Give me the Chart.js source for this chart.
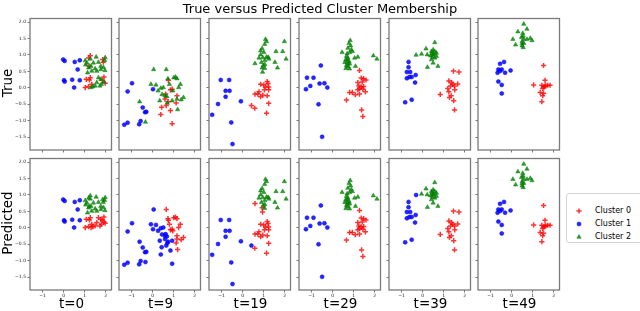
<!DOCTYPE html>
<html>
<head>
<meta charset="utf-8">
<script src="https://cdn.jsdelivr.net/npm/chart.js@4.4.1/dist/chart.umd.min.js"></script>
<style>
body { margin: 0; background: #fff; width: 640px; height: 311px; overflow: hidden; position: relative; font-family: "DejaVu Sans", sans-serif; }
.lbl { position: absolute; color: #000; white-space: nowrap; transform: translate(-50%, -50%); line-height: 1; }
.rot { transform: translate(-50%, -50%) rotate(-90deg); }
canvas { position: absolute; }
#legend { position: absolute; left: 566px; top: 193px; width: 80px; height: 50px; border: 1px solid #d4d4d4; border-radius: 3px; box-sizing: border-box; }
.legtxt { position: absolute; left: 28px; font-size: 8px; transform: translateY(-50%); line-height: 1; }
</style>
</head>
<body>
<div id="legend"></div>
<script>
const chartTitle = 'True versus Predicted Cluster Membership';
const rowLabels = ['True', 'Predicted'];
const timeLabels = ['t=0', 't=9', 't=19', 't=29', 't=39', 't=49'];
const clusterNames = ['Cluster 0', 'Cluster 1', 'Cluster 2'];
const xTicks = [-1, 0, 1, 2];
const yTicks = [-1.5, -1.0, -0.5, 0.0, 0.5, 1.0, 1.5, 2.0];
const xRange = [-1.6, 2.28];
const yRange = [-1.89, 2.11];

// each point: [x, y, true cluster, predicted cluster]
const pointsT0 = [
  [-0.02, 0.86, 1, 1], [0.05, 0.82, 1, 1], [0.53, 0.79, 1, 1], [0.77, 0.84, 1, 1], [0.67, 0.56, 1, 1],
  [0.02, 0.23, 1, 1], [0.05, 0.19, 1, 1], [0.41, 0.25, 1, 1], [0.77, 0.23, 1, 1], [0.50, 0.01, 1, 1],
  [1.03, 0.83, 2, 2], [1.11, 0.76, 2, 2], [1.27, 0.88, 2, 2], [1.55, 0.94, 2, 2], [1.98, 0.92, 2, 2],
  [1.95, 0.84, 2, 2], [1.42, 0.76, 2, 2], [1.66, 0.78, 2, 2], [1.77, 0.66, 2, 2], [1.97, 0.53, 2, 2],
  [1.19, 0.61, 2, 2], [1.30, 0.66, 2, 2], [1.50, 0.58, 2, 2], [1.14, 0.46, 2, 2], [1.34, 0.51, 2, 2],
  [1.58, 0.51, 2, 2], [1.77, 0.56, 2, 2], [1.05, 0.70, 2, 2], [1.90, 0.62, 2, 2],
  [1.66, 0.31, 2, 0], [1.77, 0.26, 2, 0], [1.80, 0.11, 2, 0], [1.73, 0.06, 2, 0], [1.39, 0.04, 2, 0],
  [1.50, 0.06, 2, 0], [1.31, 0.01, 2, 0], [1.58, 0.16, 2, 0], [1.92, 0.18, 2, 0],
  [1.27, 0.98, 0, 2], [1.19, 0.91, 0, 2], [1.89, 0.78, 0, 2], [1.86, 0.86, 0, 2], [1.22, 0.66, 0, 2],
  [1.08, 0.26, 0, 0], [1.23, 0.24, 0, 0], [1.27, 0.31, 0, 0], [1.03, 0.01, 0, 0], [1.19, 0.04, 0, 0],
  [1.34, 0.11, 0, 0], [1.92, 0.33, 0, 0], [1.98, 0.14, 0, 0], [1.85, 0.23, 0, 0]
];
const pointsT9 = [
  [-0.98, 0.14, 1, 1], [-1.19, -0.11, 1, 1], [0.02, -0.04, 1, 1], [-0.47, -0.60, 1, 1], [-0.30, -0.73, 1, 1],
  [-0.36, -0.74, 1, 1], [-0.57, -1.01, 1, 1], [-0.64, -1.11, 1, 1], [-1.19, -1.06, 1, 1], [-1.35, -1.12, 1, 1],
  [0.05, 0.56, 2, 1], [-0.08, 0.11, 2, 1], [0.16, 0.09, 2, 1], [0.39, -0.01, 2, 1], [0.51, 0.01, 2, 1],
  [0.26, -0.09, 2, 1], [0.59, -0.24, 2, 1], [0.68, -0.26, 2, 1], [0.93, -0.39, 2, 1], [0.70, -0.46, 2, 1],
  [0.34, -0.39, 2, 1], [-0.62, -0.42, 2, 1], [-0.34, -1.04, 2, 1], [0.45, -0.20, 2, 1],
  [0.65, 0.56, 2, 0], [0.73, 0.28, 2, 0], [0.80, 0.11, 2, 0], [1.01, 0.31, 2, 0], [1.09, 0.33, 2, 0],
  [1.16, 0.28, 2, 0], [1.32, 0.11, 2, 0], [1.24, 0.01, 2, 0], [0.96, -0.09, 2, 0], [1.47, -0.29, 2, 0],
  [1.36, -0.36, 2, 0], [1.16, -0.34, 2, 0], [1.19, -0.66, 2, 0],
  [0.75, 0.23, 0, 0], [0.93, -0.04, 0, 0], [0.85, -0.06, 0, 0], [1.16, -0.24, 0, 0], [1.12, -0.46, 0, 0],
  [0.62, -0.19, 0, 1], [0.59, -0.34, 0, 1], [0.74, -0.42, 0, 1], [0.43, -0.59, 0, 1], [0.39, -0.81, 0, 1],
  [0.85, -0.69, 0, 1], [0.93, -1.09, 0, 1], [0.65, -0.54, 0, 1]
];
const pointsT19 = [
  [-1.04, 0.24, 1, 1], [-0.64, 0.24, 1, 1], [-0.81, -0.09, 1, 1], [-0.62, -0.09, 1, 1], [-0.81, -0.27, 1, 1],
  [-1.17, -0.49, 1, 1], [-1.45, -0.82, 1, 1], [-0.08, -0.41, 1, 1], [-0.54, -1.05, 1, 1], [-0.48, -1.71, 1, 1],
  [1.17, 0.19, 0, 0], [1.21, 0.13, 0, 0], [0.86, 0.11, 0, 0], [1.01, 0.09, 0, 0], [1.09, 0.03, 0, 0],
  [1.24, 0.03, 0, 0], [1.04, -0.06, 0, 0], [1.24, -0.06, 0, 0], [0.59, -0.19, 0, 0], [0.73, -0.19, 0, 0],
  [0.86, -0.27, 0, 0], [0.96, -0.22, 0, 0], [0.78, -0.12, 0, 0], [1.17, -0.24, 0, 0], [0.42, -0.54, 0, 1],
  [0.58, -0.62, 0, 0], [1.24, -0.47, 0, 0], [1.14, -0.77, 0, 0],
  [0.59, 0.74, 2, 0], [0.93, 0.61, 2, 0], [0.95, 0.48, 2, 0],
  [1.09, 1.48, 2, 2], [1.14, 1.41, 2, 2], [1.05, 1.33, 2, 2], [0.93, 1.20, 2, 2], [0.86, 1.13, 2, 2],
  [1.01, 1.08, 2, 2], [1.14, 0.94, 2, 2], [1.22, 0.93, 2, 2], [1.25, 0.88, 2, 2], [0.86, 1.01, 2, 2],
  [0.78, 0.91, 2, 2], [1.06, 0.84, 2, 2], [0.90, 0.78, 2, 2], [0.98, 0.68, 2, 2], [1.06, 0.71, 2, 2],
  [1.05, 0.60, 2, 2], [0.96, 0.92, 2, 2], [1.99, 1.41, 2, 2], [1.59, 1.11, 2, 2], [1.91, 1.11, 2, 2],
  [2.07, 0.88, 2, 2], [1.54, 0.78, 2, 2], [1.66, 0.61, 2, 2]
];
const pointsT29 = [
  [-0.56, 0.68, 1, 1], [-1.22, 0.31, 1, 1], [-0.91, 0.31, 1, 1], [-1.06, 0.06, 1, 1], [-1.27, -0.04, 1, 1],
  [-0.62, 0.13, 1, 1], [-0.39, 0.14, 1, 1], [-0.25, 0.01, 1, 1], [-0.67, -0.50, 1, 1], [-0.50, -1.49, 1, 1],
  [1.28, 0.53, 0, 0], [1.36, 0.30, 0, 0], [1.48, 0.28, 0, 0], [1.59, 0.24, 0, 0], [1.20, 0.16, 0, 0],
  [1.41, 0.18, 0, 0], [1.25, 0.06, 0, 0], [1.36, 0.03, 0, 0], [1.48, 0.04, 0, 0], [1.28, -0.02, 0, 0],
  [1.44, -0.04, 0, 0], [1.56, -0.12, 0, 0], [1.20, -0.06, 0, 0], [0.81, -0.14, 0, 0], [0.94, -0.14, 0, 0],
  [1.08, -0.21, 0, 0], [1.28, -0.19, 0, 0], [0.66, -0.37, 0, 0], [1.38, -0.67, 0, 0], [1.44, -0.87, 0, 0],
  [0.84, 1.44, 2, 2], [0.78, 1.36, 2, 2], [0.86, 1.28, 2, 2], [0.73, 1.21, 2, 2], [0.89, 1.16, 2, 2],
  [0.81, 1.08, 2, 2], [0.45, 1.08, 2, 2], [0.69, 1.04, 2, 2], [0.94, 1.11, 2, 2], [1.05, 0.91, 2, 2],
  [1.20, 0.94, 2, 2], [0.66, 0.96, 2, 2], [0.73, 0.91, 2, 2], [0.63, 0.86, 2, 2], [0.78, 0.81, 2, 2],
  [0.58, 0.78, 2, 2], [0.69, 0.76, 2, 2], [0.81, 0.74, 2, 2], [0.66, 0.68, 2, 2], [0.73, 0.64, 2, 2],
  [0.63, 0.59, 2, 2], [0.81, 0.58, 2, 2], [1.09, 0.66, 2, 2], [1.94, 0.98, 2, 2], [2.11, 0.88, 2, 2],
  [0.70, 0.85, 2, 2], [0.75, 0.72, 2, 2]
];
const pointsT39 = [
  [-0.67, 0.79, 1, 1], [-0.67, 0.63, 1, 1], [-0.75, 0.48, 1, 1], [-0.59, 0.48, 1, 1], [-0.63, 0.33, 1, 1],
  [-0.75, 0.29, 1, 1], [-0.33, 0.39, 1, 1], [-0.36, 0.16, 1, 1], [-0.52, 0.33, 1, 1], [-0.52, -0.36, 1, 1],
  [-0.83, -0.44, 1, 1],
  [-0.31, 1.00, 2, 1],
  [0.58, 1.38, 2, 2], [0.50, 1.16, 2, 2], [0.42, 1.11, 2, 2], [0.58, 1.11, 2, 2], [0.66, 1.06, 2, 2],
  [0.50, 1.01, 2, 2], [0.38, 0.98, 2, 2], [0.47, 0.94, 2, 2], [0.58, 0.91, 2, 2], [0.42, 0.86, 2, 2],
  [0.66, 0.96, 2, 2], [0.16, 1.19, 2, 2], [-0.05, 1.03, 2, 2], [0.22, 1.01, 2, 2], [0.23, 0.63, 2, 2],
  [0.73, 0.66, 2, 2], [0.50, 0.76, 2, 2], [0.53, 1.04, 2, 2], [0.45, 1.06, 2, 2],
  [1.47, 0.51, 0, 0], [1.73, 0.48, 0, 0], [1.25, 0.21, 0, 0], [1.38, 0.16, 0, 0], [1.44, 0.11, 0, 0],
  [1.33, 0.06, 0, 0], [1.52, 0.06, 0, 0], [1.67, 0.12, 0, 0], [1.20, -0.02, 0, 0], [1.25, -0.12, 0, 0],
  [1.36, -0.24, 0, 0], [1.53, -0.06, 0, 0], [0.84, -0.20, 0, 0], [1.28, -0.29, 0, 0], [1.48, -0.39, 0, 0],
  [1.52, -0.67, 0, 0]
];
const pointsT49 = [
  [-0.55, 0.73, 1, 1], [-0.36, 0.79, 1, 1], [-0.63, 0.56, 1, 1], [-0.47, 0.56, 1, 1], [-0.55, 0.51, 1, 1],
  [-0.67, 0.46, 1, 1], [-0.31, 0.46, 1, 1], [-0.05, 0.53, 1, 1], [-0.63, 0.19, 1, 1], [-0.47, 0.09, 1, 1],
  [-0.47, -0.17, 1, 1],
  [0.58, 1.94, 2, 2], [0.73, 1.79, 2, 2], [0.30, 1.71, 2, 2], [0.53, 1.66, 2, 2], [0.06, 1.48, 2, 2],
  [0.47, 1.54, 2, 2], [0.58, 1.48, 2, 2], [0.73, 1.48, 2, 2], [0.89, 1.51, 2, 2], [0.97, 1.44, 2, 2],
  [0.50, 1.41, 2, 2], [0.58, 1.36, 2, 2], [0.50, 1.28, 2, 2], [0.19, 1.31, 2, 2], [0.55, 1.23, 2, 2],
  [0.55, 1.58, 2, 2], [0.50, 1.35, 2, 2],
  [1.52, 0.68, 0, 0], [1.59, 0.23, 0, 0], [1.05, 0.09, 0, 0], [1.44, 0.08, 0, 0], [1.52, 0.03, 0, 0],
  [1.63, 0.06, 0, 0], [1.72, 0.08, 0, 0], [1.83, 0.08, 0, 0], [1.48, -0.02, 0, 0], [1.36, -0.14, 0, 0],
  [1.52, -0.16, 0, 0], [1.48, -0.24, 0, 0], [1.44, -0.42, 0, 0], [1.58, 0.05, 0, 0]
];
const allPoints = [pointsT0, pointsT9, pointsT19, pointsT29, pointsT39, pointsT49];

// layout of the 2 x 6 grid (page pixels)
const colLeft = [30, 119, 209, 299, 389, 478];
const rowTop = [17, 157];
const panelW = 83, panelH = 133;
const padL = 28, padR = 4, padT = 4, padB = 14;
const FONT = 'DejaVu Sans';

const clusterStyle = [
  { pointStyle: 'cross', color: 'rgba(255,0,0,0.8)', radius: 2.6, borderWidth: 1.5 },
  { pointStyle: 'circle', color: 'rgba(0,0,255,0.85)', radius: 2.0, borderWidth: 0.6 },
  { pointStyle: 'triangle', color: 'rgba(0,128,0,0.8)', radius: 2.5, borderWidth: 0.6 }
];

const framePlugin = {
  id: 'frame',
  afterDatasetsDraw(chart) {
    const a = chart.chartArea, ctx = chart.ctx;
    ctx.save();
    ctx.strokeStyle = '#7a7a7a';
    ctx.lineWidth = 1.3;
    ctx.strokeRect(a.left, a.top, a.right - a.left, a.bottom - a.top);
    ctx.restore();
  }
};

function fmt(v, digits) {
  return v.toFixed(digits).replace('-', '\u2212');
}

function addLabel(text, cx, cy, size, rotated) {
  const d = document.createElement('div');
  d.className = rotated ? 'lbl rot' : 'lbl';
  d.textContent = text;
  d.style.left = cx + 'px';
  d.style.top = cy + 'px';
  d.style.fontSize = size + 'px';
  document.body.appendChild(d);
}

function makePanel(row, col) {
  const w = padL + panelW + padR, h = padT + panelH + padB;
  const canvas = document.createElement('canvas');
  canvas.width = w; canvas.height = h;
  canvas.style.width = w + 'px'; canvas.style.height = h + 'px';
  canvas.style.left = (colLeft[col] - padL) + 'px';
  canvas.style.top = (rowTop[row] - padT) + 'px';
  document.body.appendChild(canvas);

  const pts = allPoints[col];
  const labelIdx = row === 0 ? 2 : 3;
  const datasets = [0, 1, 2].map(k => ({
    label: clusterNames[k],
    data: pts.filter(p => p[labelIdx] === k).map(p => ({ x: p[0], y: p[1] })),
    pointStyle: clusterStyle[k].pointStyle,
    pointRadius: clusterStyle[k].radius,
    pointBorderWidth: clusterStyle[k].borderWidth,
    backgroundColor: clusterStyle[k].color,
    borderColor: clusterStyle[k].color,
    order: 2 - k
  }));

  new Chart(canvas, {
    type: 'scatter',
    data: { datasets: datasets },
    options: {
      responsive: false,
      animation: false,
      devicePixelRatio: 1,
      layout: { padding: { left: 0, right: padR, top: padT, bottom: 0 } },
      plugins: { legend: { display: false }, tooltip: { enabled: false } },
      scales: {
        x: {
          type: 'linear', min: xRange[0], max: xRange[1],
          afterBuildTicks: s => { s.ticks = xTicks.map(v => ({ value: v })); },
          afterFit: s => { s.height = padB; },
          ticks: {
            display: row === 1, autoSkip: false, maxRotation: 0, padding: 1,
            color: '#222', font: { size: 4.5, family: FONT },
            callback: v => fmt(v, 0)
          },
          grid: { drawOnChartArea: false, drawTicks: true, tickLength: 2.5, color: '#555', lineWidth: 0.8 },
          border: { display: false }
        },
        y: {
          type: 'linear', min: yRange[0], max: yRange[1],
          afterBuildTicks: s => { s.ticks = yTicks.map(v => ({ value: v })); },
          afterFit: s => { s.width = padL; },
          ticks: {
            display: col === 0, autoSkip: false, padding: 1.5,
            color: '#222', font: { size: 4.5, family: FONT },
            callback: v => fmt(v, 1)
          },
          grid: { drawOnChartArea: false, drawTicks: true, tickLength: 2.5, color: '#555', lineWidth: 0.8 },
          border: { display: false }
        }
      }
    },
    plugins: [framePlugin]
  });
}

for (let r = 0; r < 2; r++) {
  for (let c = 0; c < 6; c++) makePanel(r, c);
}

addLabel(chartTitle, 320, 8, 13, false);
addLabel(rowLabels[0], 8, 83, 13.5, true);
addLabel(rowLabels[1], 8, 223, 13.5, true);
timeLabels.forEach((t, c) => addLabel(t, colLeft[c] + panelW / 2, 304, 13.5, false));

// legend
const legend = document.getElementById('legend');
const legendRowY = [17, 29.5, 43];
clusterNames.forEach((name, k) => {
  const mc = document.createElement('canvas');
  mc.width = 12; mc.height = 12;
  mc.style.left = '6px';
  mc.style.top = (legendRowY[k] - 6) + 'px';
  legend.appendChild(mc);
  const ctx = mc.getContext('2d');
  const st = clusterStyle[k];
  ctx.fillStyle = st.color;
  ctx.strokeStyle = st.color;
  ctx.lineWidth = st.borderWidth;
  Chart.helpers.drawPoint(ctx, { pointStyle: st.pointStyle, radius: st.radius, borderWidth: st.borderWidth, rotation: 0 }, 6, 6);
  const t = document.createElement('div');
  t.className = 'legtxt';
  t.textContent = name;
  t.style.top = legendRowY[k] + 'px';
  legend.appendChild(t);
});
</script>
</body>
</html>
